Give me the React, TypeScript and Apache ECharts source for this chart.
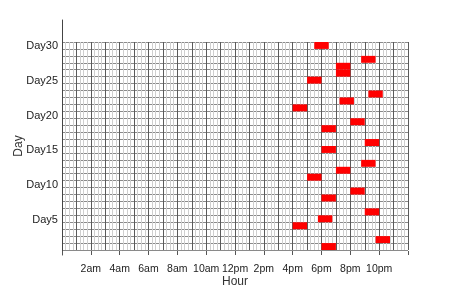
import React, { useEffect, useRef } from "react";
import * as echarts from "echarts";

const days = [
  "Day1", "Day2", "Day3", "Day4", "Day5", "Day6", "Day7", "Day8", "Day9", "Day10",
  "Day11", "Day12", "Day13", "Day14", "Day15", "Day16", "Day17", "Day18", "Day19", "Day20",
  "Day21", "Day22", "Day23", "Day24", "Day25", "Day26", "Day27", "Day28", "Day29", "Day30",
];
const hourLabels = ["12am", "2am", "4am", "6am", "8am", "10am", "12pm", "2pm", "4pm", "6pm", "8pm", "10pm", "12am"];
// start hour of each red block and the day it falls on
const eventDays = ["Day30", "Day28", "Day27", "Day26", "Day25", "Day23", "Day22", "Day21", "Day19", "Day18", "Day16", "Day15", "Day13", "Day12", "Day11", "Day9", "Day8", "Day6", "Day5", "Day4", "Day2", "Day1"];
const eventStarts = [17.5, 20.75, 19, 19, 17, 21.25, 19.25, 16, 20, 18, 21, 18, 20.75, 19, 17, 20, 18, 21, 17.75, 16, 21.75, 18];
const eventDuration = 1;

export default function App() {
  const ref = useRef<HTMLDivElement>(null);
  useEffect(() => {
    if (!ref.current) return;
    const chart = echarts.init(ref.current, undefined, { renderer: "svg" });
    const font = "Liberation Sans, Arial, sans-serif";
    const data = eventDays.map((d, i) => [eventStarts[i], days.indexOf(d), eventDuration]);
    chart.setOption({
      animation: false,
      grid: [
        { left: 62, right: 63, top: 42, bottom: 39, containLabel: false, outerBoundsMode: "none" },
        { left: 62, right: 63, top: 20, bottom: 34, containLabel: false, outerBoundsMode: "none" },
      ],
      xAxis: [
        {
          type: "value",
          gridIndex: 0,
          min: 0,
          max: 24,
          interval: 1,
          axisLine: { show: false },
          axisTick: { show: false },
          axisLabel: { show: false },
          splitLine: { show: true, lineStyle: { color: "#5a5a5a", width: 1 } },
          minorTick: { show: false, splitNumber: 4 },
          minorSplitLine: { show: true, lineStyle: { color: "#cfcfcf", width: 1 } },
        },
        {
          type: "value",
          gridIndex: 1,
          min: 0,
          max: 24,
          interval: 2,
          name: "Hour",
          nameLocation: "middle",
          nameGap: 20,
          nameMoveOverlap: false,
          nameTextStyle: { fontFamily: font, fontSize: 12, color: "#333" },
          axisLine: { show: false },
          axisTick: { show: true, inside: true, length: 4, lineStyle: { color: "#555" } },
          axisLabel: {
            margin: 7,
            fontFamily: font,
            fontSize: 10.5,
            color: "#222",
            formatter: (v: number) => {
              const i = Math.round(v / 2);
              return i === 0 || i === 12 ? "" : hourLabels[i];
            },
          },
          splitLine: { show: false },
        },
      ],
      yAxis: [
        {
          type: "category",
          gridIndex: 0,
          data: days,
          name: "Day",
          nameLocation: "middle",
          nameGap: 38,
          nameMoveOverlap: false,
          nameTextStyle: { fontFamily: font, fontSize: 12, color: "#333" },
          axisLine: { show: false },
          axisTick: { show: false },
          axisLabel: {
            margin: 4,
            fontFamily: font,
            fontSize: 11,
            color: "#222",
            interval: (idx: number) => (idx + 1) % 5 === 0,
          },
          splitLine: { show: true, interval: 0, lineStyle: { color: "#8a8a8a", width: 1 } },
        },
        {
          type: "value",
          gridIndex: 1,
          min: 0,
          max: 1,
          axisLine: { show: true, lineStyle: { color: "#444", width: 1 } },
          axisTick: { show: false },
          axisLabel: { show: false },
          splitLine: { show: false },
        },
      ],
      series: [
        {
          type: "custom",
          xAxisIndex: 0,
          yAxisIndex: 0,
          data,
          encode: { x: 0, y: 1 },
          renderItem: (params: any, api: any) => {
            const x0 = api.value(0);
            const y = api.value(1);
            const dur = api.value(2);
            const p0 = api.coord([x0, y]);
            const p1 = api.coord([x0 + dur, y]);
            const h = api.size([0, 1])[1];
            return {
              type: "rect",
              shape: { x: p0[0], y: p0[1] - h / 2, width: p1[0] - p0[0], height: h },
              style: { fill: "#ff0000" },
            };
          },
        },
      ],
    });
    return () => chart.dispose();
  }, []);
  return <div ref={ref} style={{ position: "fixed", left: 0, top: 0, width: 471, height: 289 }} />;
}
